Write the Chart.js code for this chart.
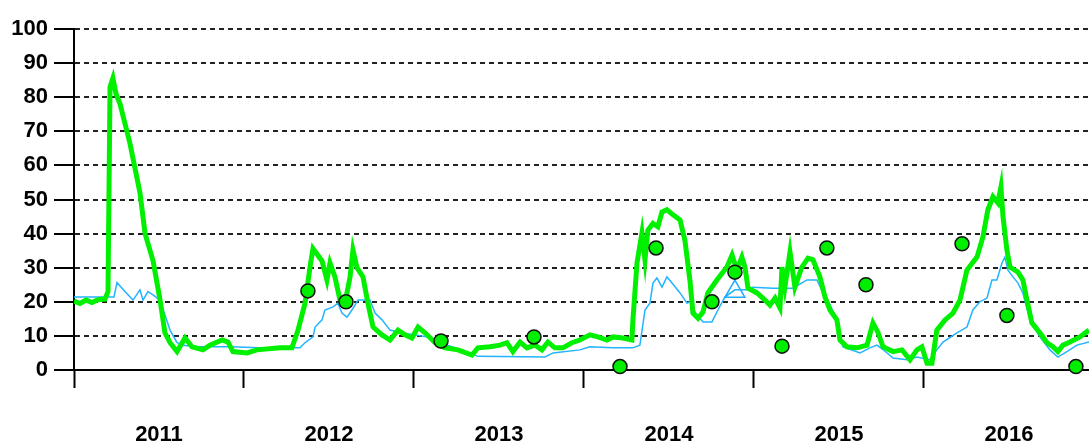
<!DOCTYPE html>
<html>
<head>
<meta charset="utf-8">
<script src="https://cdn.jsdelivr.net/npm/chart.js@4/dist/chart.umd.min.js"></script>
<style>
  body { margin: 0; background: #fff; }
  canvas { display: block; }
</style>
</head>
<body>
<canvas id="chart" width="1089" height="445"></canvas>
<script>
// thick green series (decimal year, value)
const greenX = [2011.000, 2011.035, 2011.071, 2011.106, 2011.141, 2011.182, 2011.200, 2011.212, 2011.229, 2011.247,
  2011.271, 2011.329, 2011.388, 2011.418, 2011.465, 2011.506, 2011.535, 2011.565, 2011.606, 2011.653,
  2011.694, 2011.759, 2011.800, 2011.871, 2011.906, 2011.935, 2012.018, 2012.076, 2012.212, 2012.282,
  2012.318, 2012.359, 2012.388, 2012.406, 2012.429, 2012.459, 2012.488, 2012.506, 2012.535, 2012.565,
  2012.594, 2012.624, 2012.641, 2012.665, 2012.700, 2012.729, 2012.759, 2012.812, 2012.859, 2012.906,
  2012.947, 2012.988, 2013.024, 2013.065, 2013.124, 2013.182, 2013.259, 2013.341, 2013.376, 2013.447,
  2013.506, 2013.547, 2013.582, 2013.624, 2013.665, 2013.712, 2013.753, 2013.788, 2013.829, 2013.876,
  2013.929, 2013.976, 2014.035, 2014.082, 2014.135, 2014.171, 2014.229, 2014.282, 2014.288, 2014.312,
  2014.341, 2014.359, 2014.376, 2014.406, 2014.435, 2014.459, 2014.488, 2014.524, 2014.565, 2014.594,
  2014.624, 2014.641, 2014.671, 2014.700, 2014.729, 2014.782, 2014.841, 2014.871, 2014.900, 2014.929,
  2014.947, 2014.965, 2015.018, 2015.065, 2015.094, 2015.124, 2015.153, 2015.165, 2015.182, 2015.212,
  2015.241, 2015.282, 2015.318, 2015.347, 2015.388, 2015.418, 2015.447, 2015.488, 2015.506, 2015.547,
  2015.606, 2015.665, 2015.700, 2015.729, 2015.759, 2015.818, 2015.871, 2015.918, 2015.959, 2015.988,
  2016.018, 2016.047, 2016.076, 2016.124, 2016.171, 2016.212, 2016.253, 2016.312, 2016.347, 2016.376,
  2016.406, 2016.435, 2016.453, 2016.465, 2016.488, 2016.506, 2016.553, 2016.582, 2016.606, 2016.635,
  2016.682, 2016.724, 2016.759, 2016.788, 2016.818, 2016.859, 2016.918, 2016.971];
const greenY = [20.2, 19.5, 20.5, 19.8, 20.6, 20.8, 23, 83, 85.6, 81,
  78, 66.5, 52, 40, 32, 20.6, 10.9, 8, 5.4, 9.4,
  6.8, 5.9, 7.3, 8.8, 8.2, 5.4, 5, 5.9, 6.5, 6.5,
  11.7, 19.6, 30, 35.6, 34, 32, 26.4, 31.4, 27.3, 20.5,
  19.6, 27.3, 35.2, 30, 27.3, 19.6, 12.6, 10.3, 8.8, 11.7,
  10.3, 9.4, 12.6, 10.9, 8, 6.5, 5.9, 4.4, 6.5, 6.8,
  7.3, 8, 5.4, 8.2, 6.5, 7.3, 5.9, 8.2, 6.5, 6.5,
  8, 8.8, 10.3, 9.7, 8.8, 9.7, 9.4, 8.8, 14.7, 31.4,
  40.2, 32.3, 41, 43, 42, 46.3, 47, 45.5, 44, 38,
  26, 16.7, 15.2, 17, 22.6, 26.4, 30.2, 33.7, 29.3, 33.1,
  30.2, 24, 22.6, 20.5, 19, 21.1, 18.2, 30.2, 24.3, 34.6,
  24.3, 30.2, 32.8, 32.3, 27.3, 21.4, 17.6, 14.7, 8.8, 6.8,
  6.5, 7.3, 13.8, 11.1, 6.8, 5.4, 5.9, 3, 5.9, 6.8,
  2, 2, 11.7, 14.7, 16.7, 20.5, 29.3, 33.1, 39, 47,
  50.8, 49, 53.7, 45, 35.2, 30.2, 28.7, 26.4, 20.5, 13.8,
  10.9, 8, 6.8, 5.4, 7.3, 8.2, 9.7, 11.7];

// thin blue series
const blueX = [2011.000, 2011.235, 2011.253, 2011.300, 2011.347, 2011.388, 2011.406, 2011.435, 2011.465, 2011.506,
  2011.565, 2011.606, 2011.653, 2011.741, 2011.918, 2012.094, 2012.329, 2012.359, 2012.406, 2012.418,
  2012.459, 2012.476, 2012.524, 2012.553, 2012.576, 2012.606, 2012.635, 2012.671, 2012.741, 2012.771,
  2012.812, 2012.859, 2012.929, 2013.006, 2013.082, 2013.141, 2013.224, 2013.300, 2013.376, 2013.771,
  2013.818, 2013.976, 2014.035, 2014.171, 2014.288, 2014.329, 2014.359, 2014.388, 2014.406, 2014.429,
  2014.459, 2014.488, 2014.518, 2014.565, 2014.606, 2014.624, 2014.653, 2014.700, 2014.753, 2014.788,
  2014.829, 2014.888, 2014.959, 2014.994, 2015.112, 2015.229, 2015.312, 2015.371, 2015.406, 2015.435,
  2015.488, 2015.524, 2015.624, 2015.682, 2015.724, 2015.759, 2015.818, 2015.900, 2015.959, 2016.035,
  2016.076, 2016.112, 2016.194, 2016.253, 2016.288, 2016.329, 2016.371, 2016.400, 2016.429, 2016.459,
  2016.476, 2016.494, 2016.524, 2016.553, 2016.582, 2016.624, 2016.682, 2016.741, 2016.788, 2016.841,
  2016.900, 2016.971];
const blueY = [21.4, 21.4, 25.6, 23, 20.5, 23.5, 20.5, 23, 22, 20.5,
  11.7, 8, 7.2, 6.8, 6.8, 6.5, 6.5, 8, 9.7, 12.6,
  14.7, 17.6, 18.5, 19.6, 16.7, 15.5, 17.6, 20.5, 20.5, 16.7,
  14.7, 11.7, 10.9, 10.3, 9.7, 8, 6.8, 5.4, 4, 3.8,
  5, 5.9, 6.8, 6.5, 6.5, 7.3, 17.6, 19.6, 25.5, 27,
  24.3, 27.3, 25.5, 22.6, 19.6, 20, 17, 14.1, 14.1, 17.6,
  21.4, 23.5, 23.5, 24.3, 24, 24, 26.4, 26.4, 22.6, 20.5,
  14.7, 6.8, 5, 6.5, 7.3, 6, 3.5, 3, 3.8, 3,
  5.9, 8.2, 10.9, 12.6, 17.6, 20, 21.1, 26.4, 26.4, 31.4,
  33.1, 29.3, 27.3, 25.5, 22.6, 14.7, 9.7, 5.9, 3.8, 5.4,
  7.3, 8.2];

// green circle markers
const dotX = [2012.376, 2012.600, 2013.159, 2013.706, 2014.212, 2014.424, 2014.753,
  2014.888, 2015.165, 2015.429, 2015.659, 2016.224, 2016.488, 2016.894];
const dotY = [23.2, 20, 8.5, 9.7, 1, 35.8, 20, 28.7, 7, 35.8, 25, 37, 16, 1];

// hollow blue triangle marker
const triX = [2014.888];
const triY = [23];

const years = ["2011", "2012", "2013", "2014", "2015", "2016"];
const xTicks = [2011, 2011.5, 2012, 2012.5, 2013, 2013.5, 2014, 2014.5, 2015, 2015.5, 2016, 2016.5];
const yTicks = [0, 10, 20, 30, 40, 50, 60, 70, 80, 90, 100];

function pairs(xs, ys) {
  return xs.map((x, i) => ({ x: x, y: ys[i] }));
}

const labelFont = { family: "'Liberation Sans', Arial, sans-serif", size: 22, weight: "bold" };

new Chart(document.getElementById("chart"), {
  type: "line",
  data: {
    datasets: [
      {
        type: "scatter",
        data: pairs(dotX, dotY),
        pointRadius: 7,
        pointBackgroundColor: "#00ee00",
        pointBorderColor: "#111",
        pointBorderWidth: 1.5,
        showLine: false,
        clip: false,
        order: 0,
      },
      {
        type: "scatter",
        data: pairs(triX, triY),
        pointStyle: "triangle",
        pointRadius: 11.5,
        pointBackgroundColor: "rgba(0,0,0,0)",
        pointBorderColor: "#22aaff",
        pointBorderWidth: 1.5,
        showLine: false,
        clip: false,
        order: 1,
      },
      {
        data: pairs(greenX, greenY),
        borderColor: "#00f000",
        borderWidth: 5,
        pointRadius: 0,
        tension: 0,
        order: 2,
      },
      {
        data: pairs(blueX, blueY),
        borderColor: "#22b4ff",
        borderWidth: 1.5,
        pointRadius: 0,
        tension: 0,
        order: 3,
      },
    ],
  },
  options: {
    responsive: false,
    animation: false,
    layout: { autoPadding: false, padding: { top: 29, right: 0, left: 0, bottom: 0 } },
    plugins: { legend: { display: false }, tooltip: { enabled: false } },
    scales: {
      x: {
        type: "linear",
        min: 2011,
        max: 2016.971,
        afterBuildTicks: (s) => { s.ticks = xTicks.map((v) => ({ value: v })); },
        afterFit: (s) => {
          s.height = 75;
          s.paddingLeft = 0;
          s.paddingRight = 0;
        },
        border: { display: true, color: "#000", width: 2 },
        grid: {
          drawOnChartArea: false,
          drawTicks: true,
          tickLength: 18,
          tickWidth: 2,
          tickColor: (c) => (c.tick && Number.isInteger(c.tick.value) ? "#000" : "rgba(0,0,0,0)"),
        },
        ticks: {
          autoSkip: false,
          maxRotation: 0,
          padding: 34,
          color: "#000",
          font: labelFont,
          callback: (v) => (Number.isInteger(v) ? "" : years[Math.floor(v) - 2011]),
        },
      },
      y: {
        min: 0,
        max: 100,
        afterFit: (s) => { s.width = 74; },
        afterBuildTicks: (s) => { s.ticks = yTicks.map((v) => ({ value: v })); },
        border: { display: true, color: "#000", width: 2, dash: [5, 4] },
        grid: {
          color: "#222",
          lineWidth: 2,
          tickLength: 20,
          tickWidth: 2,
          tickColor: "#000",
          tickBorderDash: [],
        },
        ticks: {
          padding: 6,
          color: "#000",
          font: labelFont,
        },
      },
    },
  },
});
</script>
</body>
</html>
